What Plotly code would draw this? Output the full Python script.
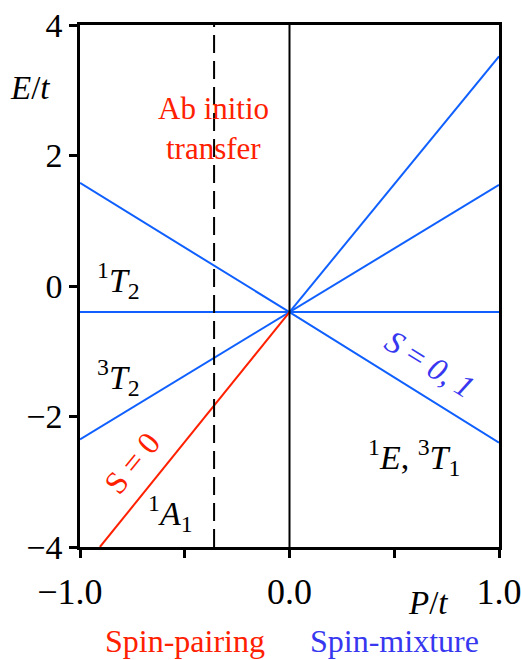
import plotly.graph_objects as go

# Energy levels E/t versus P/t, all branches meeting at P = 0
E0 = -0.4
flat_x = [-1.0, 1.0]
flat_y = [E0, E0]
down_x = [-1.0, 0.0, 1.0]
down_y = [1.58, E0, -2.40]
up_x = [-1.0, 0.0, 1.0]
up_y = [-2.35, E0, 1.55]
steep_x = [0.0, 1.0]
steep_y = [E0, 3.52]
singlet_x = [-0.905, 0.0]
singlet_y = [-4.0, E0]
ab_initio_p = -0.36

x_ticks = [-1.0, -0.5, 0.0, 0.5, 1.0]
x_ticklabels = ["−1.0", "", "0.0", "", "1.0"]
y_ticks = [-4, -2, 0, 2, 4]
y_ticklabels = ["−4", "−2", "0", "2", "4"]

BLUE = "rgb(16,96,255)"
RED = "rgb(255,32,0)"
TXT_BLUE = "rgb(55,55,240)"
FONT = "Liberation Serif"

fig = go.Figure()
line_blue = dict(color=BLUE, width=2)
for xs, ys in [(flat_x, flat_y), (down_x, down_y), (up_x, up_y), (steep_x, steep_y)]:
    fig.add_trace(go.Scatter(x=xs, y=ys, mode="lines", line=line_blue,
                             showlegend=False, hoverinfo="skip"))
fig.add_trace(go.Scatter(x=singlet_x, y=singlet_y, mode="lines",
                         line=dict(color=RED, width=2), showlegend=False, hoverinfo="skip"))
fig.add_trace(go.Scatter(x=[0, 0], y=[-4, 4], mode="lines",
                         line=dict(color="black", width=2), showlegend=False, hoverinfo="skip"))
fig.add_trace(go.Scatter(x=[ab_initio_p, ab_initio_p], y=[-4, 4], mode="lines",
                         line=dict(color="black", width=2, dash="18px,8px"),
                         showlegend=False, hoverinfo="skip"))

pad = '<span style="color:rgba(0,0,0,0)">−</span>'
x_text = [t + pad if t.startswith("−") else t for t in x_ticklabels]

fig.update_xaxes(range=[-1, 1], tickvals=x_ticks, ticktext=x_text, automargin=False,
                 showline=True, mirror=True, linecolor="black", linewidth=2.5,
                 ticks="outside", ticklen=8, tickwidth=2.5, tickcolor="black",
                 ticklabelstandoff=3,
                 showgrid=False, zeroline=False,
                 tickfont=dict(family=FONT, size=36, color="black"))
fig.update_yaxes(range=[-4, 4], tickvals=y_ticks, ticktext=y_ticklabels, automargin=False,
                 showline=True, mirror=True, linecolor="black", linewidth=2.5,
                 ticks="outside", ticklen=8, tickwidth=2.5, tickcolor="black",
                 showgrid=False, zeroline=False,
                 tickfont=dict(family=FONT, size=34, color="black"))


def note(text, x, y, color="black", size=32, angle=0, xref="paper", yref="paper"):
    fig.add_annotation(text=text, x=x, y=y, xref=xref, yref=yref, showarrow=False,
                       textangle=angle, font=dict(family=FONT, size=size, color=color),
                       xanchor="center", yanchor="middle")


W, H = 522, 660
L, R, T, B = 80, 23, 25, 113
pw, ph = W - L - R, H - T - B


def px(xp, yp):
    return (xp - L) / pw, 1 - (yp - T) / ph


note("<i>E</i>/<i>t</i>", *px(30, 88), size=33)
note("<i>P</i>/<i>t</i>", *px(428, 603), size=33)
note("Ab initio", *px(213, 108), color=RED, size=31)
note("transfer", *px(213, 148), color=RED, size=31)
note("<sup>1</sup><i>T</i><sub>2</sub>", *px(118, 280), size=34)
note("<sup>3</sup><i>T</i><sub>2</sub>", *px(118, 377), size=34)
note("<sup>1</sup><i>A</i><sub>1</sub>", *px(170, 513), size=34)
note("<sup>1</sup><i>E</i>, <sup>3</sup><i>T</i><sub>1</sub>", *px(414, 457), size=34)
note("S = 0", *px(132, 463), color=RED, size=32, angle=-51)
note("<i>S</i> = <i>0, 1</i>", *px(430, 364), color=TXT_BLUE, size=32, angle=32)
note("Spin-pairing", *px(185, 641), color=RED, size=32)
note("Spin-mixture", *px(394, 641), color=TXT_BLUE, size=32)

fig.update_layout(width=W, height=H, margin=dict(l=L, r=R, t=T, b=B),
                  plot_bgcolor="white", paper_bgcolor="white",
                  font=dict(family=FONT))
fig.write_html("out.html")
